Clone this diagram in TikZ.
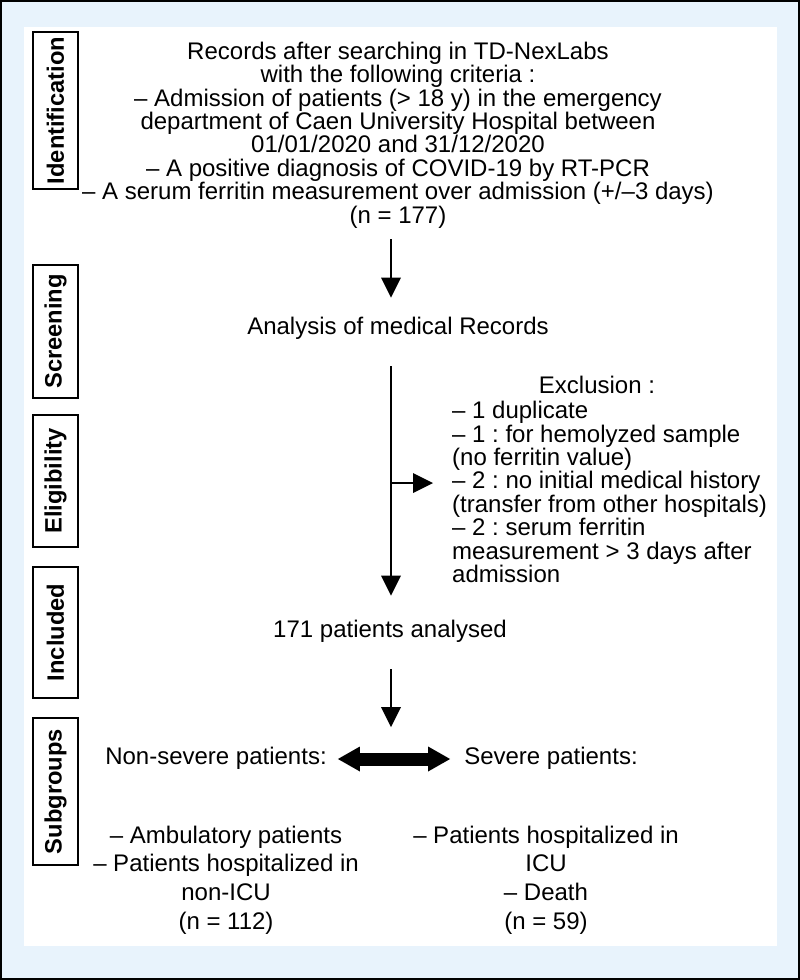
\documentclass[tikz,border=0pt]{standalone}
\usepackage{fontspec}
\setmainfont{Liberation Sans}
\usetikzlibrary{arrows.meta,calc}
\definecolor{bgblue}{RGB}{232,243,252}
\frenchspacing
\begin{document}
\begin{tikzpicture}[x=1pt,y=-1pt,
  txt/.style={font=\fontsize{24}{23.4}\selectfont, align=center, inner sep=0pt},
  txtwide/.style={font=\fontsize{24}{28.7}\selectfont, align=center, inner sep=0pt},
  sidelab/.style={draw, line width=1.4pt, rotate=90, font=\bfseries\fontsize{23.7}{24}\selectfont,
    minimum height=45pt, inner sep=0pt},
  arr/.style={line width=2.8pt, -{Triangle[width=20pt,length=20pt,line width=0pt]}},
  dblarr/.style={line width=13pt, {Triangle[width=25pt,length=22pt,line width=0pt]}-{Triangle[width=25pt,length=22pt,line width=0pt]}}
]
\useasboundingbox (0,0) rectangle (800,980);
\fill[bgblue] (0,0) rectangle (800,980);
\draw[line width=2pt] (1,1) rectangle (799,979);
\fill[white] (24,27) rectangle (777,946);

% side labels
\node[sidelab, minimum width=157pt] (lid) at (55.5,110.5) {Identification};
\node[sidelab, minimum width=133pt] (lsc) at (55.5,331.5) {Screening};
\node[sidelab, minimum width=132pt] (lel) at (55.5,481) {Eligibility};
\node[sidelab, minimum width=131pt] (lin) at (55.5,632.5) {Included};
\node[sidelab, minimum width=147pt] (lsu) at (55.5,791.5) {Subgroups};

% main column
\coordinate (axis) at (391,0);
\node[txt] (records) at (398,135) {Records after searching in TD-NexLabs\\
with the following criteria :\\
– Admission of patients (> 18 y) in the emergency\\
department of Caen University Hospital between\\
01/01/2020 and 31/12/2020\\
– A positive diagnosis of COVID-19 by RT-PCR\\
– A serum ferritin measurement over admission (+/–3 days)\\
(n = 177)};

\node[txt] (analysis) at (398,328) {Analysis of medical Records};
\node[txt] (included) at (390,631) {171 patients analysed};

\node[txt] (extitle) at (597,385) {Exclusion :};
\node[txt, align=left, anchor=west] (exlist) at (452,492) {– 1 duplicate\\
– 1 : for hemolyzed sample\\
(no ferritin value)\\
– 2 : no initial medical history\\
(transfer from other hospitals)\\
– 2 : serum ferritin\\
measurement > 3 days after\\
admission};

\node[txt] (nonsev) at (216,758) {Non-severe patients:};
\node[txt] (sev) at (551,758) {Severe patients:};
\node[txtwide] (nonsevlist) at (226,880) {– Ambulatory patients\\
– Patients hospitalized in\\
non-ICU\\
(n = 112)};
\node[txtwide] (sevlist) at (546,880) {– Patients hospitalized in\\
ICU\\
– Death\\
(n = 59)};

% connectors
\draw[arr] ($(records.south -| axis)+(0,11)$) -- ($(analysis.north -| axis)+(0,-19)$);
\draw[arr] ($(analysis.south -| axis)+(0,27)$) -- ($(included.north -| axis)+(0,-24)$);
\coordinate (branch) at (391,483);
\draw[arr] (branch) -- ($(exlist.west |- branch)+(-19,0)$);
\coordinate (split) at (391,759);
\draw[arr] ($(included.south -| axis)+(0,27)$) -- ($(split)+(0,-32)$);
\draw[dblarr] ($(nonsev.east)+(11,1)$) -- ($(sev.west)+(-14,1)$);
\end{tikzpicture}
\end{document}
